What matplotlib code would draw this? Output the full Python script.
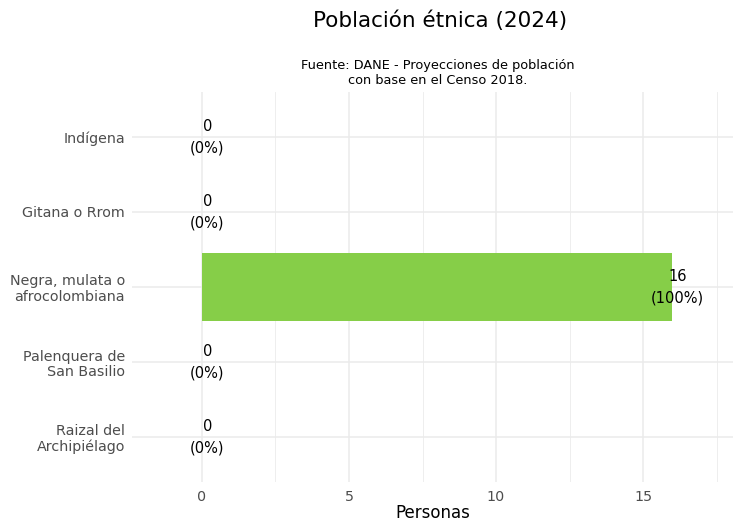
import matplotlib
matplotlib.use("Agg")
import matplotlib.pyplot as plt
from matplotlib.ticker import MultipleLocator

categorias = ["Indígena", "Gitana o Rrom", "Negra, mulata o\nafrocolombiana",
              "Palenquera de\nSan Basilio", "Raizal del\nArchipiélago"]
personas = [0, 0, 16, 0, 0]
porcentajes = [0, 0, 100, 0, 0]

W, H = 733, 521
fig = plt.figure(figsize=(W / 100, H / 100), dpi=100)
ax = fig.add_axes([132 / W, 1 - 482 / H, (733 - 132) / W, (482 - 92) / H])

n = len(categorias)
ypos = list(range(n))
ax.barh(ypos, personas, height=0.9, color="#86CE48", zorder=2)

# value labels, nudged slightly to the right of the bar end
for y, v, p in zip(ypos, personas, porcentajes):
    ax.text(v + 0.18, y, f"{v}\n({p}%)", ha="center", va="center", fontsize=10.5,
            color="black", linespacing=1.55, zorder=3)

ax.set_yticks(ypos)
ax.set_yticklabels(categorias, fontsize=10.3, color="#4d4d4d", ha="right",
                   multialignment="right", linespacing=1.15)
ax.set_ylim(n - 0.4, -0.6)
ax.set_xlim(-2.38, 18.06)
ax.xaxis.set_minor_locator(MultipleLocator(2.5))
ax.set_xticks([0, 5, 10, 15])
ax.tick_params(axis="x", labelsize=10.3, labelcolor="#4d4d4d", length=0, pad=6)
ax.tick_params(axis="y", length=0, pad=5)
ax.tick_params(which="minor", length=0)

ax.grid(True, which="major", color="#ebebeb", linewidth=1.1, zorder=0)
ax.grid(True, which="minor", axis="x", color="#ebebeb", linewidth=0.6, zorder=0)
ax.set_axisbelow(True)
for s in ax.spines.values():
    s.set_visible(False)

ax.set_xlabel("Personas", fontsize=12, labelpad=0)

fig.text(440 / W, 1 - 21 / H, "Población étnica (2024)", ha="center", va="center",
         fontsize=15.5)
fig.text(438 / W, 1 - 73 / H,
         "Fuente: DANE - Proyecciones de población\ncon base en el Censo 2018.",
         ha="center", va="center", fontsize=9.3, linespacing=1.3)

fig.savefig("out.png", dpi=100, facecolor="white")
